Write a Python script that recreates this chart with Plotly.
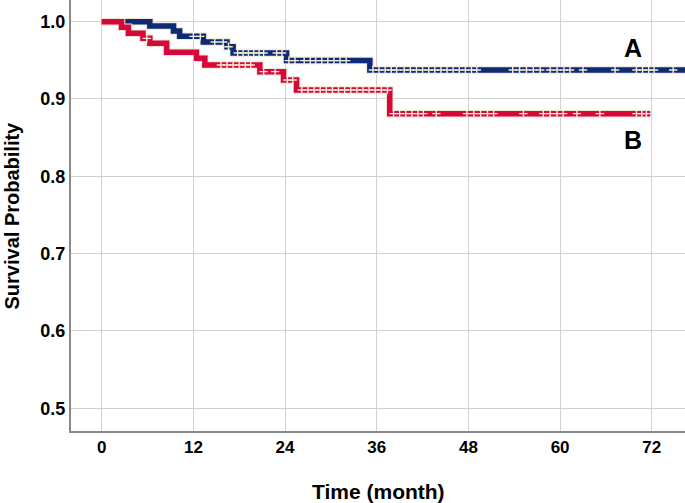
import plotly.graph_objects as go
import numpy as np

# ---- data ----
time_a = [0, 6.3, 9.4, 10.2, 13.3, 16.4, 17.2, 24.2, 35.1, 76.4]
surv_a = [1.0, 0.9944, 0.988, 0.981, 0.9737, 0.9675, 0.9595, 0.9496, 0.9375, 0.9375]
cens_a = [12.0, 12.9, 14.8, 15.9, 16.6, 17.8, 18.5, 19.2, 19.9, 20.6, 21.2, 22.9, 23.6,
          24.5, 25.3, 26.5, 27.3, 28.0, 28.8, 29.6, 30.4, 31.2, 32.0,
          35.5, 36.3, 37.1, 37.9, 38.6, 39.6, 40.4, 41.2, 42.0, 42.8, 43.6, 44.4,
          45.2, 46.0, 46.8, 47.6, 48.4, 49.1, 53.8, 54.7, 55.6, 56.5, 57.4,
          58.7, 59.6, 60.5, 61.3, 63.0, 67.2, 70.0, 70.8, 71.6, 72.3, 74.8]

time_b = [0, 2.6, 3.5, 5.4, 6.3, 8.5, 12.4, 13.5, 20.7, 23.8, 25.5, 37.7, 71.8]
surv_b = [1.0, 0.9927, 0.985, 0.9784, 0.9719, 0.9603, 0.9526, 0.944, 0.9353, 0.9245,
          0.9116, 0.881, 0.881]
cens_b = [5.9, 15.6, 16.4, 17.2, 18.0, 18.8, 19.5, 21.2, 22.7, 24.3, 25.0,
          26.2, 27.0, 27.8, 28.6, 29.4, 30.2, 31.0, 31.8, 32.6, 33.4, 34.2, 35.0,
          35.8, 36.6, 37.4, 38.2, 39.0, 39.8, 40.6, 41.4, 42.1, 43.8,
          47.8, 48.7, 49.6, 50.5, 51.3, 55.2, 57.8, 58.7, 59.6, 60.4, 62.2,
          65.2, 70.0, 70.7, 71.3]

x_ticks = [0, 12, 24, 36, 48, 60, 72]
y_ticks = [0.5, 0.6, 0.7, 0.8, 0.9, 1.0]
group_labels = ["A", "B"]
label_pos_x = [69.5, 69.5]
label_pos_y = [0.966, 0.847]

BLUE = "#0c2a78"
RED = "#d7073b"
EDGE = "#efe6d2"
CENS = "#f4ecd8"
FONT = "Liberation Sans, Arial, sans-serif"


def step_at(times, survs, t):
    idx = np.searchsorted(times, t, side="right") - 1
    return survs[max(idx, 0)]


fig = go.Figure()
for t, s, c, color in [(time_a, surv_a, cens_a, BLUE), (time_b, surv_b, cens_b, RED)]:
    fig.add_trace(go.Scatter(x=t, y=s, mode="lines", line=dict(shape="hv", color=EDGE, width=7.5),
                             hoverinfo="skip", showlegend=False))
    fig.add_trace(go.Scatter(x=t, y=s, mode="lines", line=dict(shape="hv", color=color, width=5.5),
                             showlegend=False))
    cy = [step_at(t, s, v) for v in c]
    fig.add_trace(go.Scatter(x=c, y=cy, mode="markers",
                             marker=dict(symbol="cross-thin", size=6,
                                         line=dict(color=CENS, width=1.4)),
                             showlegend=False))

for lab, lx, ly in zip(group_labels, label_pos_x, label_pos_y):
    fig.add_annotation(x=lx, y=ly, text=lab, showarrow=False,
                       font=dict(family=FONT, size=25, color="black", weight="bold"))

fig.add_annotation(xref="paper", yref="paper", x=0, y=0.5, xshift=-60, textangle=-90,
                   text="Survival Probability", showarrow=False,
                   xanchor="center", yanchor="middle",
                   font=dict(family=FONT, size=20, color="black", weight="bold"))
fig.add_annotation(xref="paper", yref="paper", x=0.5, y=0, yshift=-60,
                   text="Time (month)", showarrow=False,
                   xanchor="center", yanchor="middle",
                   font=dict(family=FONT, size=21, color="black", weight="bold"))

fig.update_layout(
    width=685, height=503,
    margin=dict(l=71, r=0, t=0, b=72),
    paper_bgcolor="white", plot_bgcolor="white",
    xaxis=dict(range=[-4.02, 76.35], tickvals=x_ticks, ticktext=[str(v) for v in x_ticks],
               showgrid=True, gridcolor="#d2d2d2", gridwidth=1, zeroline=False,
               showline=True, linecolor="#8a8a8a", linewidth=2, ticks="", automargin=False,
               tickfont=dict(family=FONT, size=17, color="black", weight="bold")),
    yaxis=dict(range=[0.4705, 1.028], tickvals=y_ticks, ticktext=[f"{v:.1f}" for v in y_ticks],
               showgrid=True, gridcolor="#d2d2d2", gridwidth=1, zeroline=False,
               showline=True, linecolor="#8a8a8a", linewidth=2, ticks="", automargin=False,
               tickfont=dict(family=FONT, size=18, color="black", weight="bold")),
)

fig.write_html("out.html", config={"displayModeBar": False},
               post_script="document.body.style.margin='0';document.body.style.padding='0';")
